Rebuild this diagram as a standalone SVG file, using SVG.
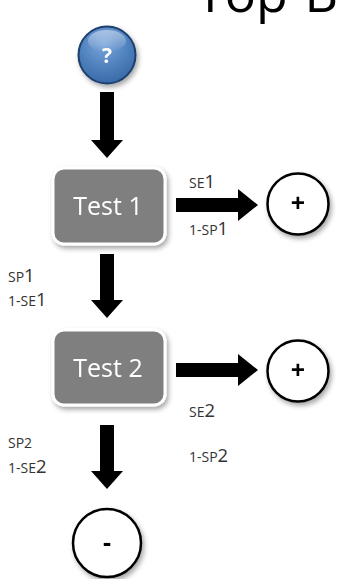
<svg xmlns="http://www.w3.org/2000/svg" width="339" height="579" viewBox="0 0 339 579">
  <style>
    .title { font-family: "Open Sans", "Liberation Sans", sans-serif; font-size: 52px; fill: #000; }
    .box { fill: #7f7f7f; stroke: #ffffff; stroke-width: 3; }
    .boxtxt { font-family: "Open Sans", "Liberation Sans", sans-serif; font-size: 25px; fill: #ffffff; text-anchor: middle; }
    .ring { fill: #ffffff; stroke: #000000; stroke-width: 2.5; }
    .sym { font-family: "Open Sans", "Liberation Sans", sans-serif; font-weight: bold; fill: #000; text-anchor: middle; }
    .lbl { font-family: "Open Sans", "Liberation Sans", sans-serif; font-size: 14px; fill: #333333; }
    .lbl .big { font-size: 18.5px; }
    .arrow { fill: #000000; }
  </style>
  <defs>
    <radialGradient id="blueFill" cx="45%" cy="30%" r="70%">
      <stop offset="0" stop-color="#7aa5dc"/>
      <stop offset="0.6" stop-color="#4f81bd"/>
      <stop offset="1" stop-color="#3a6aa8"/>
    </radialGradient>
    <linearGradient id="gloss" x1="0" y1="0" x2="0" y2="1">
      <stop offset="0" stop-color="#ffffff" stop-opacity="0.45"/>
      <stop offset="1" stop-color="#ffffff" stop-opacity="0"/>
    </linearGradient>
    <filter id="shadow" x="-30%" y="-30%" width="160%" height="160%">
      <feDropShadow dx="2" dy="3" stdDeviation="2.5" flood-color="#000" flood-opacity="0.35"/>
    </filter>
  </defs>

  <!-- heading, cut by the top edge -->
  <text class="title" x="196" y="12">Top-B</text>

  <!-- connectors: block arrows -->
  <g id="connectors">
    <polygon class="arrow" points="100,92 114,92 114,140 123,140 107,158 91,140 100,140"/>
    <polygon class="arrow" points="100,254 114,254 114,300 123,300 107,318 91,300 100,300"/>
    <polygon class="arrow" points="100,425 114,425 114,471 123,471 107,489 91,471 100,471"/>
    <polygon class="arrow" points="176,198 238,198 238,189 258,205 238,221 238,212 176,212"/>
    <polygon class="arrow" points="176,363 238,363 238,354 258,370 238,386 238,377 176,377"/>
  </g>

  <!-- edge labels -->
  <g id="labels">
    <text class="lbl" x="189" y="188">SE<tspan class="big">1</tspan></text>
    <text class="lbl" x="189" y="235">1-SP<tspan class="big">1</tspan></text>
    <text class="lbl" x="8" y="282">SP<tspan class="big">1</tspan></text>
    <text class="lbl" x="8" y="306">1-SE<tspan class="big">1</tspan></text>
    <text class="lbl" x="189" y="417">SE<tspan class="big">2</tspan></text>
    <text class="lbl" x="189" y="462">1-SP<tspan class="big">2</tspan></text>
    <text class="lbl" x="8" y="448">SP2</text>
    <text class="lbl" x="8" y="473">1-SE<tspan class="big">2</tspan></text>
  </g>

  <g id="start" filter="url(#shadow)">
    <circle cx="107" cy="55" r="28.5" fill="url(#blueFill)" stroke="#1f3f6e" stroke-width="2"/>
    <ellipse cx="107" cy="41" rx="19" ry="11" fill="url(#gloss)"/>
    <text class="sym" x="107" y="63" font-size="21" style="fill:#ffffff">?</text>
  </g>

  <g id="test1" filter="url(#shadow)">
    <rect class="box" x="53" y="168" width="112" height="76" rx="11"/>
    <text class="boxtxt" x="108" y="215">Test 1</text>
  </g>

  <g id="pos1" filter="url(#shadow)">
    <circle class="ring" cx="298" cy="204" r="30.5"/>
    <text class="sym" x="298" y="212" font-size="25">+</text>
  </g>

  <g id="test2" filter="url(#shadow)">
    <rect class="box" x="53" y="330" width="112" height="75" rx="11"/>
    <text class="boxtxt" x="108" y="377">Test 2</text>
  </g>

  <g id="pos2" filter="url(#shadow)">
    <circle class="ring" cx="298" cy="371" r="30.5"/>
    <text class="sym" x="298" y="379" font-size="25">+</text>
  </g>

  <g id="neg" filter="url(#shadow)">
    <circle class="ring" cx="107" cy="543" r="34"/>
    <text class="sym" x="107" y="551" font-size="25">-</text>
  </g>
</svg>
